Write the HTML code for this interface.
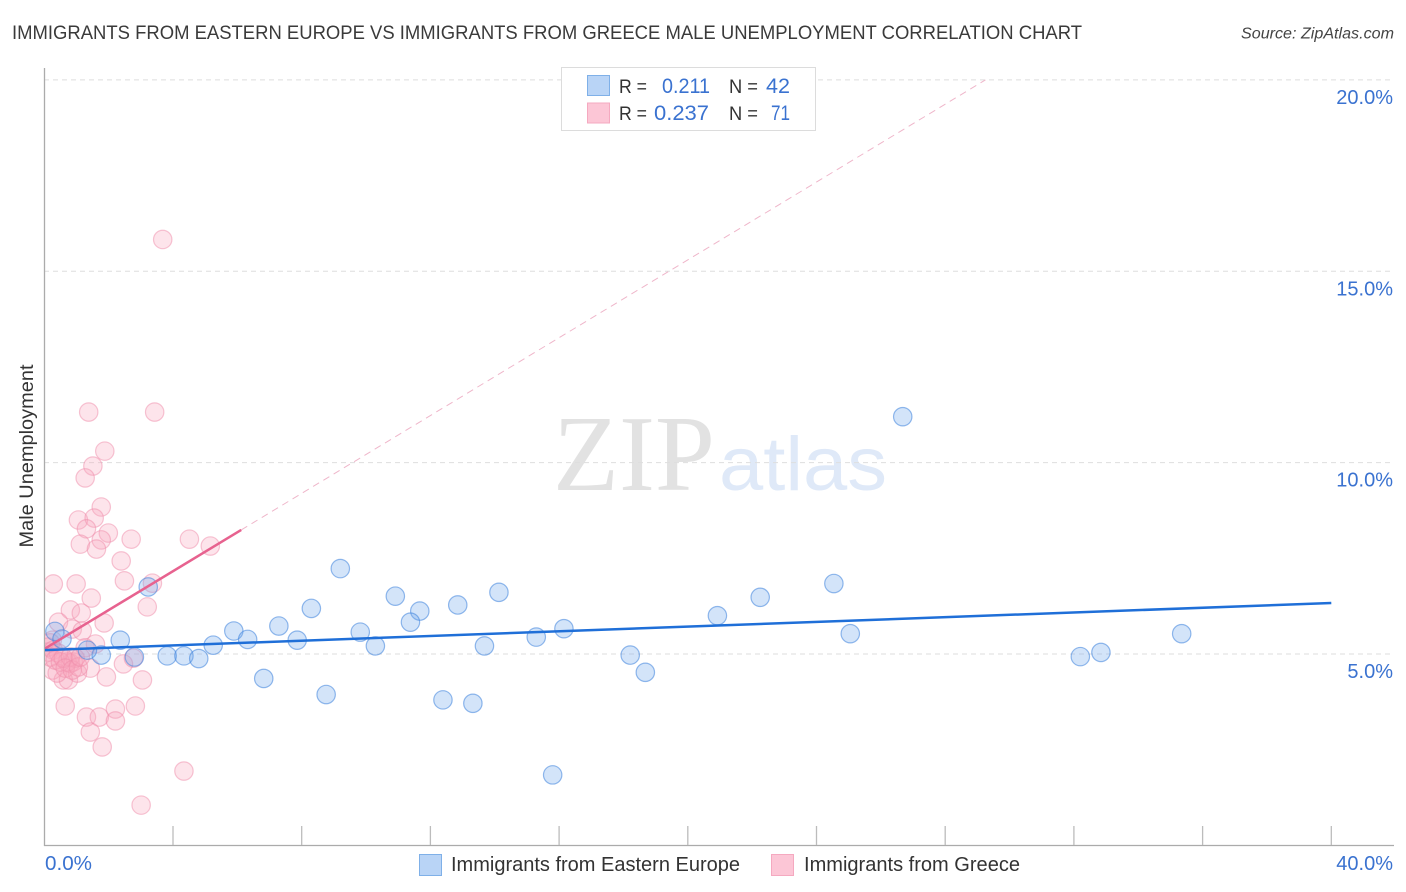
<!DOCTYPE html>
<html>
<head>
<meta charset="utf-8">
<title>Immigrants from Eastern Europe vs Immigrants from Greece Male Unemployment Correlation Chart</title>
<style>
html,body{margin:0;padding:0;background:#fff;}
svg{display:block;font-family:"Liberation Sans",sans-serif;}
</style>
</head>
<body>
<svg id="chart" width="1406" height="892" viewBox="0 0 1406 892" xmlns="http://www.w3.org/2000/svg">
<defs>
<clipPath id="plotClip"><rect x="45" y="60" width="1349" height="785"/></clipPath>
</defs>
<rect width="1406" height="892" fill="#ffffff"/>
<text x="12" y="39" font-size="19.5" fill="#3a3a3a" textLength="1070" lengthAdjust="spacingAndGlyphs">IMMIGRANTS FROM EASTERN EUROPE VS IMMIGRANTS FROM GREECE MALE UNEMPLOYMENT CORRELATION CHART</text>
<text x="1241" y="38.5" font-size="15.5" font-style="italic" fill="#444" textLength="153" lengthAdjust="spacingAndGlyphs">Source: ZipAtlas.com</text>
<g>
<text x="553" y="490" font-family="'Liberation Serif',serif" font-size="108" fill="#e2e2e2" textLength="162" lengthAdjust="spacingAndGlyphs">ZIP</text>
<text x="719" y="490" font-size="76" fill="#dfe9f8" textLength="168" lengthAdjust="spacingAndGlyphs">atlas</text>
</g>
<g id="grid"></g>
<g id="axes"></g>
<g clip-path="url(#plotClip)">
<g id="pinkPts"></g>
<g id="bluePts"></g>
<g id="trends"></g>
</g>
<text transform="translate(33,456) rotate(-90)" font-size="19" fill="#333" text-anchor="middle" textLength="183" lengthAdjust="spacingAndGlyphs">Male Unemployment</text>
<g>
<rect x="561.5" y="67.5" width="254" height="63" fill="#fff" stroke="#dcdcdc" stroke-width="1"/>
<rect x="587.5" y="75.5" width="22" height="20" fill="#b9d4f6" stroke="#7fb0e8"/>
<rect x="587.5" y="103" width="22" height="20" fill="#fcc6d6" stroke="#f5a9c0"/>
<text x="619" y="93" font-size="19.5" fill="#333" textLength="28" lengthAdjust="spacingAndGlyphs">R =</text>
<text x="662" y="93" font-size="21" fill="#3a72d0" textLength="48" lengthAdjust="spacingAndGlyphs">0.211</text>
<text x="729" y="93" font-size="19.5" fill="#333" textLength="29" lengthAdjust="spacingAndGlyphs">N =</text>
<text x="766" y="93" font-size="21" fill="#3a72d0" textLength="24" lengthAdjust="spacingAndGlyphs">42</text>
<text x="619" y="120" font-size="19.5" fill="#333" textLength="28" lengthAdjust="spacingAndGlyphs">R =</text>
<text x="654" y="120" font-size="21" fill="#3a72d0" textLength="55" lengthAdjust="spacingAndGlyphs">0.237</text>
<text x="729" y="120" font-size="19.5" fill="#333" textLength="29" lengthAdjust="spacingAndGlyphs">N =</text>
<text x="771" y="120" font-size="21" fill="#3a72d0" textLength="19" lengthAdjust="spacingAndGlyphs">71</text>
</g>
<g>
<rect x="419.5" y="854.5" width="22" height="21" fill="#b9d4f6" stroke="#7fb0e8"/>
<text x="451" y="871" font-size="20" fill="#333" textLength="289" lengthAdjust="spacingAndGlyphs">Immigrants from Eastern Europe</text>
<rect x="771.5" y="854.5" width="22" height="21" fill="#fcc6d6" stroke="#f5a9c0"/>
<text x="804" y="871" font-size="20" fill="#333" textLength="216" lengthAdjust="spacingAndGlyphs">Immigrants from Greece</text>
</g>
<script>
const yTickValues = [5, 10, 15, 20];
const yTickLabels = ["5.0%", "10.0%", "15.0%", "20.0%"];
const xTickValues = [0, 4, 8, 12, 16, 20, 24, 28, 32, 36, 40];
const xEndLabels = ["0.0%", "40.0%"];

const blueX = [26.68,9.20,10.91,11.67,11.38,12.85,14.13,8.30,7.29,5.89,6.32,7.86,9.82,10.29,5.25,2.36,3.23,2.80,1.77,1.34,3.82,4.34,4.80,6.82,8.76,12.39,13.32,15.80,13.68,15.29,16.15,18.21,18.68,20.92,22.25,24.54,25.05,32.20,32.84,35.35,0.33,0.55];
const blueY = [11.20,7.23,6.51,6.12,5.83,6.28,6.61,6.19,5.73,5.60,5.38,5.36,5.57,5.21,5.23,5.36,6.75,4.92,4.97,5.10,4.95,4.95,4.88,4.36,3.94,3.80,3.71,1.84,5.21,5.44,5.66,4.97,4.52,6.00,6.48,6.84,5.53,4.93,5.04,5.53,5.59,5.39];

const pinkX = [3.68,3.43,1.38,1.88,1.51,1.27,1.77,1.06,1.55,1.31,1.99,1.12,1.77,1.62,2.70,4.51,5.16,2.39,2.49,3.36,0.28,0.99,1.46,3.20,0.81,1.15,0.44,1.86,0.87,1.18,1.59,1.27,2.46,2.77,1.43,1.93,3.05,0.65,2.21,2.83,1.31,1.71,2.21,1.43,1.80,4.34,3.01,0.59,0.75,0.25,0.40,1.03,0.81,0.90,0.71,0.96,0.19,0.25,0.12,0.12,0.28,0.44,0.19,0.34,0.50,0.59,0.81,0.65,0.87,1.06,1.12];
const pinkY = [15.83,11.32,11.32,10.30,9.91,9.60,8.84,8.50,8.55,8.27,8.16,7.87,7.98,7.74,8.00,8.00,7.82,7.43,6.91,6.85,6.83,6.83,6.46,6.23,6.15,6.07,5.83,5.81,5.65,5.60,5.26,5.16,4.74,4.89,4.63,4.40,4.32,3.64,3.56,3.64,3.35,3.35,3.25,2.96,2.57,1.94,1.05,4.32,4.32,4.58,4.50,4.50,4.76,4.79,4.79,4.89,5.29,5.36,5.18,5.05,5.10,5.02,4.92,4.84,4.79,4.89,4.92,4.63,4.58,4.66,4.92];

const blueTrendX = [0, 40];
const blueTrendY = [5.10, 6.33];
const pinkSolidX = [0, 6.12];
const pinkSolidY = [5.13, 8.24];
const pinkDashX = [6.12, 29.25];
const pinkDashY = [8.24, 20.0];

const NS = "http://www.w3.org/2000/svg";
function sx(v) { return 44.3 + v * 32.175; }
function sy(v) { return 845.3 - v * 38.27; }
function make(tag, attrs, parent) {
  const el = document.createElementNS(NS, tag);
  for (const k in attrs) el.setAttribute(k, attrs[k]);
  parent.appendChild(el);
  return el;
}
const grid = document.getElementById("grid");
const axes = document.getElementById("axes");
yTickValues.forEach(function (v, i) {
  const g = make("line", {x1: 44, x2: 1394, y1: sy(v), y2: sy(v), stroke: "#dedede", "stroke-width": 1, "stroke-dasharray": "5 4"}, grid);
  
  
  const t = make("text", {x: 1393, y: sy(v) + 24, "font-size": 20, fill: "#3a72d0", "text-anchor": "end"}, axes);
  
  
  t.textContent = yTickLabels[i];
});
const yAxisLine = make("line", {x1: 44.5, x2: 44.5, y1: 68, y2: 846, stroke: "#ababab", "stroke-width": 1.3}, axes);


const xAxisLine = make("line", {x1: 44, x2: 1394, y1: 845.5, y2: 845.5, stroke: "#ababab", "stroke-width": 1.3}, axes);


xTickValues.slice(1).forEach(function (v) {
  const tk = make("line", {x1: sx(v), x2: sx(v), y1: 826, y2: 845, stroke: "#bcbcbc", "stroke-width": 1.3}, axes);
  
  
});
const xStart = make("text", {x: 45, y: 870, "font-size": 20, fill: "#3a72d0", textLength: 47, lengthAdjust: "spacingAndGlyphs"}, axes);


xStart.textContent = xEndLabels[0];
const xEnd = make("text", {x: 1393, y: 870, "font-size": 20, fill: "#3a72d0", "text-anchor": "end"}, axes);


xEnd.textContent = xEndLabels[1];

const pinkGroup = document.getElementById("pinkPts");
pinkX.forEach(function (x, i) {
  const c = make("circle", {cx: sx(x), cy: sy(pinkY[i]), r: 9.2, fill: "rgba(248,165,190,0.3)", stroke: "rgba(240,140,170,0.5)", "stroke-width": 1.2}, pinkGroup);
  
  
});
const blueGroup = document.getElementById("bluePts");
blueX.forEach(function (x, i) {
  const c = make("circle", {cx: sx(x), cy: sy(blueY[i]), r: 9.2, fill: "rgba(110,165,235,0.3)", stroke: "rgba(60,130,220,0.55)", "stroke-width": 1.2}, blueGroup);
  
  
});

const trends = document.getElementById("trends");
const pinkDash = make("line", {x1: sx(pinkDashX[0]), y1: sy(pinkDashY[0]), x2: sx(pinkDashX[1]), y2: sy(pinkDashY[1]), stroke: "#efb6ca", "stroke-width": 1, "stroke-dasharray": "7 5"}, trends);


const pinkSolid = make("line", {x1: sx(pinkSolidX[0]), y1: sy(pinkSolidY[0]), x2: sx(pinkSolidX[1]), y2: sy(pinkSolidY[1]), stroke: "#e7628f", "stroke-width": 2.5}, trends);


const blueTrend = make("line", {x1: sx(blueTrendX[0]), y1: sy(blueTrendY[0]), x2: sx(blueTrendX[1]), y2: sy(blueTrendY[1]), stroke: "#1f6fd8", "stroke-width": 2.5}, trends);


</script>
</svg>
</body>
</html>
